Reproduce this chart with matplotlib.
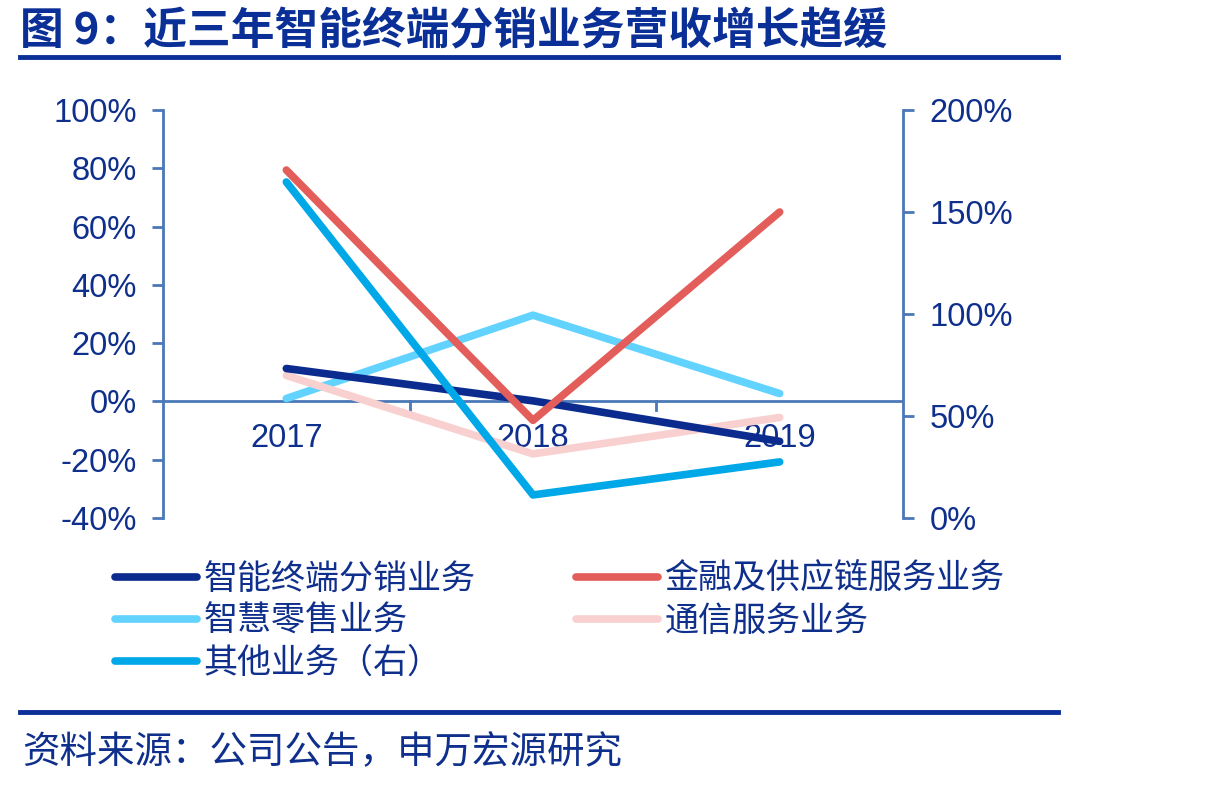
import matplotlib.pyplot as plt
from matplotlib.lines import Line2D

plt.rcParams['font.family'] = ['Liberation Sans', 'Noto Sans CJK SC', 'DejaVu Sans']

years = ['2017', '2018', '2019']
terminal = [11.3, 0.2, -13.7]      # 智能终端分销业务
finance = [79.4, -6.5, 65.0]       # 金融及供应链服务业务
retail = [1.0, 29.6, 2.7]          # 智慧零售业务
telecom = [8.9, -18.0, -5.5]       # 通信服务业务
other = [164.7, 11.3, 27.5]        # 其他业务（右）

text_col = '#0f2f8c'
axis_col = '#4a78b8'

fig = plt.figure(figsize=(12.31, 7.87), dpi=100)
ax = fig.add_axes([163 / 1231, 1 - 518 / 787, 740 / 1231, 408 / 787])
ax2 = ax.twinx()

x = range(len(years))
l1, = ax.plot(x, terminal, color='#0b2c8e', lw=5.5, solid_capstyle='round', zorder=3)
l2, = ax.plot(x, finance, color='#e35d5b', lw=5.5, solid_capstyle='round', zorder=3)
l3, = ax.plot(x, retail, color='#62d3ff', lw=5.5, solid_capstyle='round', zorder=2)
l4, = ax.plot(x, telecom, color='#f9d0d0', lw=5.5, solid_capstyle='round', zorder=2)
l5, = ax2.plot(x, other, color='#00a8e8', lw=5.5, solid_capstyle='round')

ax.set_xlim(-0.5, 2.5)
ax.set_ylim(-40, 100)
ax2.set_ylim(0, 200)
ax.set_yticks(range(-40, 101, 20))
ax.set_yticklabels([f'{v}%' for v in range(-40, 101, 20)])
ax2.set_yticks(range(0, 201, 50))
ax2.set_yticklabels([f'{v}%' for v in range(0, 201, 50)])

for a in (ax, ax2):
    for s in ('top', 'bottom'):
        a.spines[s].set_visible(False)
    a.spines['left'].set_color(axis_col)
    a.spines['right'].set_color(axis_col)
    a.spines['left'].set_linewidth(2)
    a.spines['right'].set_linewidth(2)
    a.tick_params(axis='y', colors=axis_col, labelcolor=text_col, labelsize=23.5,
                  length=8, width=2, pad=11)
ax2.spines['left'].set_visible(False)
ax.spines['right'].set_visible(False)

# zero line with category ticks
ax.axhline(0, color=axis_col, lw=2, zorder=1)
ax.set_xticks([-0.5, 0.5, 1.5, 2.5])
ax.set_xticklabels([])
ax.tick_params(axis='x', which='major', length=0)
for b in [0.5, 1.5]:
    ax.plot([b, b], [0, -2.8], color=axis_col, lw=2, zorder=1)
for i, yr in enumerate(years):
    ax.text(i, -12.7, yr, ha='center', va='center', fontsize=23.5, color=text_col, zorder=1)

# title and rules
fig.text(20 / 1231, 1 - 31 / 787, '图 9：近三年智能终端分销业务营收增长趋缓', fontsize=31.5,
         fontweight='bold', color='#0a2f96', ha='left', va='center',
         family=['Noto Sans CJK SC', 'DejaVu Sans'])
fig.add_artist(Line2D([20 / 1231, 1058 / 1231], [1 - 57 / 787] * 2, color='#0a2f96', lw=3.5))
fig.add_artist(Line2D([20 / 1231, 1058 / 1231], [1 - 712 / 787] * 2, color='#0a2f96', lw=3.5))
fig.text(22 / 1231, 1 - 753 / 787, '资料来源：公司公告，申万宏源研究', fontsize=27,
         color=text_col, ha='left', va='center', family=['Noto Sans CJK SC', 'DejaVu Sans'])

handles = [l1, l3, l5, l2, l4]
labels = ['智能终端分销业务', '智慧零售业务', '其他业务（右）', '金融及供应链服务业务', '通信服务业务']
leg = fig.legend(handles, labels, ncol=2, loc='upper left',
                 bbox_to_anchor=(98 / 1231, 1 - 545 / 787), frameon=False,
                 prop={'family': ['Noto Sans CJK SC', 'DejaVu Sans'], 'size': 24.5},
                 handlelength=2.4, handletextpad=0.2, columnspacing=2.95, labelspacing=0.2,
                 borderpad=0)
for t in leg.get_texts():
    t.set_color(text_col)

fig.savefig('out.png', dpi=100)
